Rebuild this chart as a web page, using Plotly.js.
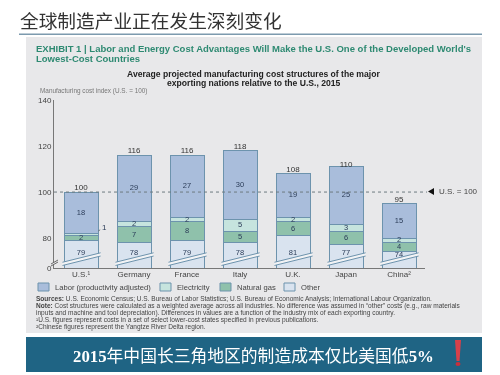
<!DOCTYPE html>
<html>
<head>
<meta charset="utf-8">
<script src="https://cdn.plot.ly/plotly-3.0.1.min.js"></script>
<style>html,body{margin:0;padding:0;background:#fff}#chart{width:500px;height:375px;filter:blur(0.4px)}</style>
</head>
<body>
<div id="chart"></div>
<script>
const categories = ['U.S.¹','Germany','France','Italy','U.K.','Japan','China²'];
const other       = [79,78,79,78,81,77,74];
const naturalGas  = [2,7,8,5,6,6,4];
const electricity = [1,2,2,5,2,3,2];
const labor       = [18,29,27,30,19,25,15];
const totals      = [100,116,116,118,108,110,95];
const yTickVals   = [67,80,100,120,140];
const yTickText   = ['0','80','100','120','140'];
const seriesNames  = ['Other','Natural gas','Electricity','Labor (productivity adjusted)'];
const seriesValues = [other,naturalGas,electricity,labor];
const seriesColors = ['#d9e3ef','#8fc1ab','#c6e4de','#a9bddb'];
const legendOrder  = [3,2,1,0];
const legendBoxX   = [38,160,220,284];
const footnotes = [
 '<b>Sources:</b> U.S. Economic Census; U.S. Bureau of Labor Statistics; U.S. Bureau of Economic Analysis; International Labour Organization.',
 '<b>Note:</b> Cost structures were calculated as a weighted average across all industries. No difference was assumed in “other” costs (e.g., raw materials',
 'inputs and machine and tool depreciation). Differences in values are a function of the industry mix of each exporting country.',
 '¹U.S. figures represent costs in a set of select lower-cost states specified in previous publications.',
 '²Chinese figures represent the Yangtze River Delta region.'
];

const W=500,H=375,L=54,R=425,T=100,B=268;
const px=x=>(x-L)/(R-L), py=y=>(B-y)/(B-T);
const SANS='"Liberation Sans", "Noto Sans", sans-serif';
const CJK='"Liberation Serif", "Noto Sans CJK SC", serif';
const idx=categories.map((_,i)=>i);

const traces=seriesNames.map((n,s)=>({
  type:'bar',name:n,x:idx,y:seriesValues[s],
  marker:{color:seriesColors[s],line:{color:'#6d93ad',width:1}},
  hoverinfo:'x+y+name'
}));

// value labels at the middle of each visible segment
const labX=[],labY=[],labT=[];
idx.forEach(i=>{
  let c=0;
  seriesValues.forEach((v,s)=>{
    const mid=s===0?Math.min(73.5,v[i]-1.4):c+v[i]/2;
    if(!(s===2&&i===0)){labX.push(i);labY.push(mid);labT.push(String(v[i]));}
    c+=v[i];
  });
});
traces.push({type:'scatter',mode:'text',x:labX,y:labY,text:labT,hoverinfo:'skip',
  textfont:{family:SANS,size:7.5,color:'#2b3c58'},textposition:'middle center',cliponaxis:false});
traces.push({type:'scatter',mode:'text',x:idx,y:totals,text:totals.map(String),hoverinfo:'skip',
  textfont:{family:SANS,size:8,color:'#333'},textposition:'top center',cliponaxis:false});

const pageRect=(x0,y0,x1,y1,c)=>({type:'rect',layer:'below',xref:'paper',yref:'paper',
  x0:px(x0),x1:px(x1),y0:py(y1),y1:py(y0),fillcolor:c,line:{width:0}});
const shapes=[
  pageRect(26,37,482,333,'#e8e8ea'),
  pageRect(26,337,482,372,'#1f6484'),
  pageRect(19,33.5,482,35,'#7c9aae'),
  {type:'line',layer:'above',xref:'paper',yref:'y',x0:0,x1:px(427),y0:100,y1:100,
   line:{color:'#6d7a80',width:1,dash:'dot'}},
  {type:'path',layer:'above',xref:'paper',yref:'paper',
   path:`M${px(428)},${py(191.5)} L${px(434)},${py(188)} L${px(434)},${py(195)} Z`,
   fillcolor:'#111',line:{width:0}}
];
// axis-break slashes across each bar
idx.forEach(i=>{
  const a=i-0.35,b=i+0.37;
  shapes.push({type:'path',layer:'above',xref:'x',yref:'y',
    path:`M${a},68.1 L${b},72.2 L${b},73.6 L${a},69.5 Z`,
    fillcolor:'#f2f3f5',line:{width:0}});
  shapes.push({type:'line',layer:'above',xref:'x',yref:'y',x0:a,x1:b,y0:68.1,y1:72.2,line:{color:'#6d93ad',width:1}});
  shapes.push({type:'line',layer:'above',xref:'x',yref:'y',x0:a,x1:b,y0:69.5,y1:73.6,line:{color:'#6d93ad',width:1}});
});
// y axis break
shapes.push({type:'path',layer:'above',xref:'paper',yref:'paper',
  path:`M${px(51)},${py(266)} L${px(58)},${py(262)} L${px(58)},${py(260)} L${px(51)},${py(264)} Z`,
  fillcolor:'#e8e8ea',line:{width:0}});
shapes.push({type:'line',layer:'above',xref:'paper',yref:'paper',x0:px(51),x1:px(58),y0:py(266),y1:py(262),line:{color:'#666',width:1}});
shapes.push({type:'line',layer:'above',xref:'paper',yref:'paper',x0:px(51),x1:px(58),y0:py(264),y1:py(260),line:{color:'#666',width:1}});
// legend swatches
legendOrder.forEach((s,k)=>shapes.push({type:'rect',layer:'above',xref:'paper',yref:'paper',
  x0:px(legendBoxX[k]),x1:px(legendBoxX[k]+11),y0:py(291),y1:py(283),
  fillcolor:seriesColors[s],line:{color:'#6d93ad',width:1}}));
// exclamation mark
shapes.push({type:'path',layer:'above',xref:'paper',yref:'paper',
  path:`M${px(455)},${py(340)} L${px(461)},${py(340)} L${px(459.5)},${py(361)} L${px(456.5)},${py(361)} Z`,
  fillcolor:'#d8404a',line:{width:0}});
shapes.push({type:'circle',layer:'above',xref:'paper',yref:'paper',
  x0:px(455.5),x1:px(460.5),y0:py(366),y1:py(362),fillcolor:'#c8303c',line:{width:0}});

const note=(x,y,text,size,color,family,anchor)=>({xref:'paper',yref:'paper',x:px(x),y:py(y),text,showarrow:false,
  xanchor:anchor||'left',yanchor:'middle',align:anchor==='center'?'center':'left',
  font:{size,color,family:family||SANS}});
const annotations=[
  note(18,20,'全球制造产业正在发生深刻变化',18.7,'#333','"Noto Sans CJK SC", sans-serif'),
  note(34,48,'<b>EXHIBIT 1 | Labor and Energy Cost Advantages Will Make the U.S. One of the Developed World\'s</b>',9.5,'#2e8a72'),
  note(34,58,'<b>Lowest-Cost Countries</b>',9.5,'#2e8a72'),
  note(254,74,'<b>Average projected manufacturing cost structures of the major</b>',8.6,'#222',SANS,'center'),
  note(254,83,'<b>exporting nations relative to the U.S., 2015</b>',8.6,'#222',SANS,'center'),
  note(38,91,'Manufacturing cost index (U.S. = 100)',6.4,'#777'),
  note(437,191,'U.S. = 100',8,'#444'),
  note(253.5,356,'<b>2015</b>年中国长三角地区的制造成本仅比美国低<b>5%</b>',16.8,'#fff',CJK,'center')
];
annotations.push({xref:'x',yref:'y',x:0.32,y:83,axref:'x',ayref:'y',ax:0.39,ay:84,text:'',showarrow:true,arrowhead:0,arrowwidth:1,arrowcolor:'#6d7a80'});
annotations.push({xref:'x',yref:'y',x:0.36,y:84.5,text:String(electricity[0]),showarrow:false,xanchor:'left',
  font:{size:8,color:'#2b3c58',family:SANS}});
legendOrder.forEach((s,k)=>annotations.push(note(legendBoxX[k]+15,287,seriesNames[s],7.6,'#444')));
footnotes.forEach((t,i)=>annotations.push(note(34,299+i*7,t,6.55,'#444')));

Plotly.newPlot('chart',traces,{
  width:W,height:H,autosize:false,
  margin:{l:L,r:W-R,t:T,b:H-B,pad:0},
  paper_bgcolor:'#fff',plot_bgcolor:'rgba(0,0,0,0)',
  showlegend:false,barmode:'stack',bargap:0.358,
  xaxis:{type:'linear',range:[-0.51,6.49],tickvals:idx,ticktext:categories,ticks:'',showgrid:false,zeroline:false,
    showline:true,linecolor:'#777',linewidth:1,tickfont:{size:8,color:'#444',family:SANS},ticklabelstandoff:-2},
  yaxis:{range:[67,140],tickvals:yTickVals,ticktext:yTickText,ticks:'',showgrid:false,zeroline:false,
    showline:true,linecolor:'#777',linewidth:1,tickfont:{size:8,color:'#444',family:SANS}},
  shapes,annotations
},{displayModeBar:false,staticPlot:true});
</script>
</body>
</html>
